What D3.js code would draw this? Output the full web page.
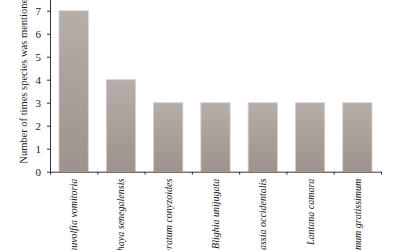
<!DOCTYPE html>
<html>
<head>
<meta charset="utf-8">
<script src="https://cdn.jsdelivr.net/npm/d3@7"></script>
<style>
  body { margin: 0; background: #fff; }
  svg { display: block; font-family: "Liberation Serif", "DejaVu Serif", serif; }
</style>
</head>
<body>
<div id="chart"></div>
<script>
const species = [
  'Rauvolfia vomitoria',
  'Khaya senegalensis',
  'Ageratum conyzoides',
  'Blighia unijugata',
  'Cassia occidentalis',
  'Lantana camara',
  'Ocimum gratissimum'
];
const mentions = [7, 4, 3, 3, 3, 3, 3];
const yTicks = [0, 1, 2, 3, 4, 5, 6, 7];

const width = 400;
const height = 250;
const margin = { left: 50, right: 19, bottom: 79 };
const y0 = height - margin.bottom + 0.7;

const svg = d3.select('#chart').append('svg')
  .attr('width', width)
  .attr('height', height);

const grad = svg.append('defs').append('linearGradient')
  .attr('id', 'barfill')
  .attr('x1', 0).attr('y1', 0).attr('x2', 0).attr('y2', 1);
grad.append('stop').attr('offset', '0%').attr('stop-color', '#b6aea9');
grad.append('stop').attr('offset', '100%').attr('stop-color', '#9d928c');

const x = d3.scaleBand()
  .domain(species)
  .range([margin.left, width - margin.right])
  .paddingInner(0.38)
  .paddingOuter(0.19);

const xEdge = d3.scaleLinear()
  .domain([0, species.length])
  .range([margin.left, width - margin.right]);

const y = d3.scaleLinear()
  .domain([0, 8])
  .range([y0, y0 - 8 * 23]);

// bars
svg.append('g').selectAll('rect')
  .data(mentions)
  .join('rect')
  .attr('x', (d, i) => x(species[i]))
  .attr('y', d => y(d))
  .attr('width', x.bandwidth())
  .attr('height', d => y(0) - y(d))
  .attr('fill', 'url(#barfill)')
  .attr('stroke', '#d9d3cf')
  .attr('stroke-width', 0.8);

// y axis
const yAxis = svg.append('g')
  .attr('transform', `translate(${margin.left},0)`)
  .call(d3.axisLeft(y).tickValues(yTicks).tickSize(3).tickPadding(6).tickSizeOuter(0));
yAxis.selectAll('text')
  .attr('font-size', 11)
  .attr('fill', '#1a1a1a')
  .attr('font-family', '"Liberation Serif", serif');
yAxis.selectAll('line, path').attr('stroke', '#333');

// x axis with ticks on category edges
const xAxis = svg.append('g')
  .attr('transform', `translate(0,${y0})`)
  .call(d3.axisBottom(xEdge).ticks(species.length).tickSize(3).tickFormat('').tickSizeOuter(0));
xAxis.selectAll('line, path').attr('stroke', '#333');

// category labels
svg.append('g').selectAll('text')
  .data(species)
  .join('text')
  .attr('transform', d => `translate(${x(d) + x.bandwidth() / 2},${y0 + 7}) rotate(-90)`)
  .attr('dy', '0.35em')
  .attr('text-anchor', 'end')
  .attr('font-style', 'italic')
  .attr('font-size', 10)
  .attr('fill', '#1a1a1a')
  .text(d => d);

// y label
svg.append('text')
  .attr('transform', `translate(27,${y(0) - 8}) rotate(-90)`)
  .attr('text-anchor', 'start')
  .attr('font-size', 10.5)
  .attr('fill', '#1a1a1a')
  .text('Number of times species was mentioned');
</script>
</body>
</html>
